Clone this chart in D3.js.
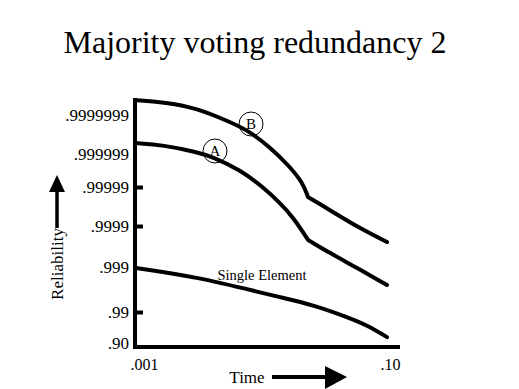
<!DOCTYPE html>
<html>
<head>
<meta charset="utf-8">
<script src="https://cdn.jsdelivr.net/npm/d3@7"></script>
<style>
  body { margin: 0; background: #fff; }
  svg { display: block; }
  text { font-family: "Liberation Serif", "DejaVu Serif", "Times New Roman", serif; fill: #000; }
</style>
</head>
<body>
<svg id="chart" width="519" height="389"></svg>
<script>
// reliability is plotted as "number of nines" (1 = .90, 2 = .99, ...)
const yTickNines = [1, 2, 3, 4, 5, 6, 7]
const yTickLabels = ['.90', '.99', '.999', '.9999', '.99999', '.999999', '.9999999']
const yTickMarks = [2, 4, 5]
const xTickValues = [0.001, 0.1]
const xTickLabels = ['.001', '.10']

const kinkTime = 0.0235

const timesB = [0.001, 0.00164, 0.00306, 0.00561, 0.00766, 0.0117, 0.01687, 0.0214, 0.0235, 0.0351, 0.0577, 0.1]
const ninesB = [7.38, 7.33, 7.18, 6.82, 6.62, 6.18, 5.61, 5.12, 4.74, 4.41, 3.98, 3.61]

const timesA = [0.001, 0.00164, 0.00306, 0.00411, 0.00674, 0.01028, 0.01403, 0.01782, 0.0235, 0.0351, 0.0577, 0.1]
const ninesA = [6.28, 6.23, 6.05, 5.91, 5.52, 5.0, 4.59, 4.23, 3.66, 3.34, 2.98, 2.6]

const timesSingle = [0.001, 0.00306, 0.01028, 0.01403, 0.0257, 0.048, 0.0693, 0.1]
const ninesSingle = [2.98, 2.78, 2.42, 2.33, 2.16, 1.84, 1.58, 1.19]

const serif = '"Liberation Serif", "DejaVu Serif", serif'

const svg = d3.select('#chart')

const x = d3.scaleLog()
  .domain([0.001, 0.1])
  .range([136, 387])

// hand drawn slide: the decades are not evenly spaced
const y = d3.scaleLinear()
  .domain(yTickNines)
  .range([343, 312, 267, 226, 187, 154, 115])

const axisY = 347

// title
svg.append('text')
  .attr('x', 255)
  .attr('y', 53)
  .attr('text-anchor', 'middle')
  .style('font-family', serif)
  .style('font-size', '32px')
  .text('Majority voting redundancy 2')

// y axis labels
const yAxis = d3.axisLeft(y)
  .tickValues(yTickNines)
  .tickFormat((d, i) => yTickLabels[i])
  .tickSize(0)
  .tickPadding(7)

svg.append('g')
  .attr('class', 'chart__y-axis')
  .attr('transform', 'translate(136, 0)')
  .call(yAxis)
  .call(g => g.attr('font-family', null).attr('font-size', null))
  .call(g => g.select('.domain').remove())
  .selectAll('text')
    .style('font-size', '17px')
    .style('font-family', serif)

// small tick marks on the inside of the axis
const yMarks = d3.axisRight(y)
  .tickValues(yTickMarks)
  .tickSize(7)
  .tickFormat('')

svg.append('g')
  .attr('transform', 'translate(136, 0)')
  .call(yMarks)
  .call(g => g.select('.domain').remove())
  .selectAll('line')
    .attr('stroke', '#000')
    .attr('stroke-width', 4)

// x axis labels
const xAxis = d3.axisBottom(x)
  .tickValues(xTickValues)
  .tickFormat((d, i) => xTickLabels[i])
  .tickSize(0)
  .tickPadding(12)

svg.append('g')
  .attr('class', 'chart__x-axis')
  .attr('transform', `translate(0, ${axisY})`)
  .call(xAxis)
  .call(g => g.attr('font-family', null).attr('font-size', null))
  .call(g => g.select('.domain').remove())
  .selectAll('text')
    .attr('dx', (d, i) => i === 0 ? 8 : 3)
    .style('font-size', '16px')
    .style('font-family', serif)

// axis lines
svg.append('line')
  .attr('x1', 135).attr('x2', 135)
  .attr('y1', 98).attr('y2', axisY + 2)
  .attr('stroke', '#000')
  .attr('stroke-width', 4)

svg.append('line')
  .attr('x1', 133).attr('x2', 400)
  .attr('y1', axisY).attr('y2', axisY)
  .attr('stroke', '#000')
  .attr('stroke-width', 4)

// curves, with a corner where the kink is
const line = d3.line()
  .x(d => x(d[0]))
  .y(d => y(d[1]))
  .curve(d3.curveBasis)

function kinked (times, nines) {
  const pts = times.map((t, i) => [t, nines[i]])
  const left = pts.filter(d => d[0] <= kinkTime)
  const right = pts.filter(d => d[0] >= kinkTime)
  if (left.length === pts.length) return line(pts)
  return line(left) + line(right)
}

const curves = [
  kinked(timesB, ninesB),
  kinked(timesA, ninesA),
  line(timesSingle.map((t, i) => [t, ninesSingle[i]]))
]

svg.selectAll('.curve')
  .data(curves)
  .enter()
  .append('path')
    .attr('class', 'curve')
    .attr('d', d => d)
    .attr('fill', 'none')
    .attr('stroke', '#000')
    .attr('stroke-width', 4)
    .attr('stroke-linecap', 'round')
    .attr('stroke-linejoin', 'round')

// circled labels on the curves
const circled = [
  { name: 'B', cx: 251, cy: 124 },
  { name: 'A', cx: 215, cy: 151 }
]

const marks = svg.selectAll('.mark')
  .data(circled)
  .enter()
  .append('g')
    .attr('class', 'mark')
    .attr('transform', d => `translate(${d.cx}, ${d.cy})`)

marks.append('circle')
  .attr('r', 12)
  .attr('fill', 'none')
  .attr('stroke', '#000')
  .attr('stroke-width', 1)

marks.append('text')
  .attr('text-anchor', 'middle')
  .attr('dy', '0.36em')
  .style('font-family', serif)
  .style('font-size', '15px')
  .text(d => d.name)

svg.append('text')
  .attr('x', 262)
  .attr('y', 280)
  .attr('text-anchor', 'middle')
  .style('font-family', serif)
  .style('font-size', '14.5px')
  .text('Single Element')

// y axis title with arrow
svg.append('text')
  .attr('transform', 'translate(63, 264) rotate(-90)')
  .attr('text-anchor', 'middle')
  .style('font-family', serif)
  .style('font-size', '17px')
  .text('Reliability')

svg.append('line')
  .attr('x1', 57).attr('x2', 57)
  .attr('y1', 228).attr('y2', 190)
  .attr('stroke', '#000')
  .attr('stroke-width', 3.5)

svg.append('path')
  .attr('d', 'M57,175 L65,192 L49,192 Z')
  .attr('fill', '#000')

// x axis title with arrow
svg.append('text')
  .attr('x', 247)
  .attr('y', 383)
  .attr('text-anchor', 'middle')
  .style('font-family', serif)
  .style('font-size', '17px')
  .text('Time')

svg.append('line')
  .attr('x1', 272).attr('x2', 328)
  .attr('y1', 377).attr('y2', 377)
  .attr('stroke', '#000')
  .attr('stroke-width', 4)

svg.append('path')
  .attr('d', 'M347,377 L325,366 L325,389 Z')
  .attr('fill', '#000')
</script>
</body>
</html>
